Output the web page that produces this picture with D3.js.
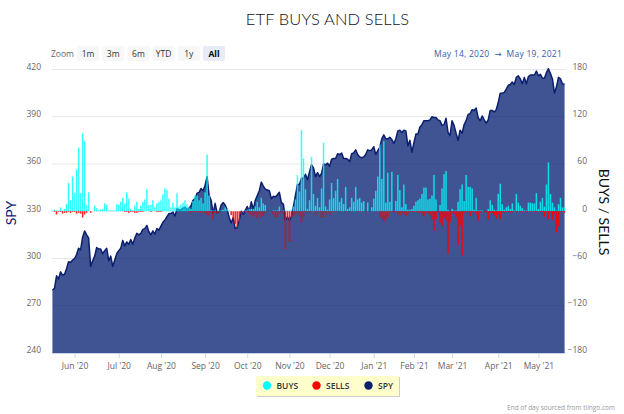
<!DOCTYPE html>
<html><head><meta charset="utf-8">
<script src="https://cdnjs.cloudflare.com/ajax/libs/d3/7.8.5/d3.min.js"></script>
<style>html,body{margin:0;padding:0;background:#fff}svg{display:block}text{font-family:"Open Sans","DejaVu Sans",sans-serif;white-space:pre}</style>
</head><body><svg id="c" width="624" height="414"></svg>
<script>
const spy=[280,281,289,287,291.5,289.5,290,293.5,298,297.5,299,
300,302.5,306.5,305.5,313.5,317.5,315,313,295,298.5,301.5,307,306,306,303,305,306.5,298.5,301.5,295,299,303,
305,306.5,311.5,308,310.5,309,312,309,313,316,315,316,318.5,319,321,317,315,317.5,315.5,319,318,320.5,
323,324.5,326.5,328.5,328.5,329.5,327,331.5,331,331,332,332.5,331,332,333.5,337,338,341.5,342,344.5,343,
346.5,352,340,337,328.5,335,329,329.5,334,335.5,334,331,326,322.5,326,319,319.5,324.5,330,328,330.5,
333,330,336,331,337,340,343,348.5,346,344,343.5,343,338,339.5,339,340.5,342,335.5,334.5,324,326.5,324,
327,333,340,347,347,351,351,353.5,350,355,359.5,357.5,352,354.5,352,354,360,359.5,360.5,358.5,
363,363.5,363.5,366.5,366,367,363.5,363.5,363,361.5,366.5,367,369,366,364.5,364,364.5,366,369,368.5,369,371,
366,368.5,370.5,376,378.5,376,376,377,375.5,373,376,381,381.5,380,381.5,381,371.5,375,367.5,
373.5,379,379,383.5,385,387.5,387.5,387.5,388,390,389.5,389.5,388,387.5,384.5,385,389,380,378,
387.5,384.5,379.5,375,381.5,379.5,385,387.5,391.5,392,394.5,394,395.5,389.5,387.5,390.5,388,386,388,394,394,393,394.5,
399,405,405,405.5,407.5,410,410.5,412,410.5,415,416,414,411,415,411,415.5,416.5,416.5,416.5,419,416,
417,414.5,414.5,418,420.5,417.5,414,405,409,415,414,411,410.5];
const buys=[1,2,1,0,5,1,3,9,36,14,44,23,53,81,23,99,89,8,24,0,
0,7,4,1,2,3,10,8,1,1,1,1,9,8,12,17,10,24,16,3,
1,7,12,3,7,12,15,28,8,8,14,5,10,12,14,21,29,27,16,5,
11,5,23,6,9,11,14,9,5,3,13,20,20,14,17,10,24,72,20,1,
1,1,0,1,1,2,5,3,1,0,0,0,0,0,0,0,1,1,3,3,
3,6,12,5,17,10,8,0,0,0,1,1,1,6,0,1,1,1,1,2,
6,15,46,25,103,67,28,3,14,69,22,7,17,5,29,87,6,2,15,36,
17,26,41,12,17,9,31,3,5,17,12,31,15,17,11,13,0,11,0,5,
16,26,44,85,41,89,11,49,12,50,0,13,46,27,5,34,9,2,2,3,
7,12,14,16,22,30,30,15,16,20,46,15,0,8,29,47,51,2,0,3,
1,1,12,28,34,13,46,31,31,29,2,17,1,1,1,0,0,3,14,8,
2,1,22,35,9,2,5,7,3,10,1,22,11,7,4,1,1,11,11,10,
10,23,3,12,17,6,34,62,22,11,5,1,9,17,5,5];
const sells=[0,1,4,1,1,3,2,2,1,2,1,1,3,2,3,8,4,2,0,2,
0,0,0,0,0,0,0,0,0,0,0,0,0,0,0,0,1,1,2,1,
1,2,2,1,1,1,0,0,0,1,0,0,1,1,1,0,0,0,0,0,
0,0,0,0,0,0,0,0,1,2,1,1,1,1,2,1,2,4,5,2,
10,2,3,2,0,0,0,0,0,5,10,16,20,14,4,1,1,2,3,4,
7,4,9,4,8,6,2,0,0,0,4,8,7,3,1,4,48,10,39,8,
6,4,2,5,14,7,1,1,1,1,0,4,1,1,8,8,1,2,5,1,
0,1,0,1,0,0,1,0,1,0,0,0,1,0,0,0,1,0,0,0,
0,0,0,8,10,13,10,7,1,1,1,1,4,5,2,4,6,3,1,1,
1,1,2,2,3,6,1,3,5,11,25,10,1,15,19,8,12,54,14,2,
4,8,43,18,56,2,1,1,6,1,1,4,12,2,0,1,1,10,2,2,
5,9,4,10,1,1,1,1,2,1,0,1,0,1,1,0,1,0,1,0,
1,1,0,1,1,7,1,10,2,11,3,27,19,1,1,2];
const monthLabels=["Jun '20","Jul '20","Aug '20","Sep '20","Oct '20","Nov '20","Dec '20","Jan '21","Feb '21","Mar '21","Apr '21","May '21"];
const monthIndex=[11,33,54,76,97,118,138,160,180,199,222,242];
const leftTicks=[240,270,300,330,360,390,420];
const rightTicks=[-180,-120,-60,0,60,120,180];
const zoomButtons=["1m","3m","6m","YTD","1y","All"];
const legendItems=["BUYS","SELLS","SPY"];

const svg=d3.select("#c");
const L=52,R=565,T=69.5,B=353;
const x=d3.scaleLinear().domain([0,spy.length-1]).range([L+.5,R-.5]);
const y=d3.scaleLinear().domain([240,420]).range([B,T]);
const y2=d3.scaleLinear().domain([-180,180]).range([B,T]);
const bw=1.5;

// title
svg.append("text").attr("x",327.5).attr("y",25).attr("text-anchor","middle").attr("fill","#111")
 .style("font-family","Lato").style("font-weight","300").style("letter-spacing","0.1px").style("font-size","16.5px").text("ETF BUYS AND SELLS");

// grid
svg.append("g").selectAll("line").data(leftTicks).join("line")
 .attr("x1",L).attr("x2",R+.5).attr("y1",d=>y(d)).attr("y2",d=>y(d)).attr("stroke","#e6e6e6").attr("stroke-width",1);

// area & line
svg.append("path").datum(spy).attr("fill","#001a6e").attr("fill-opacity",.75)
 .attr("d",d3.area().x((d,i)=>x(i)).y0(B).y1(d=>y(d)));
svg.append("g").selectAll("line").data([0,spy.length-1]).join("line")
 .attr("x1",d=>x(d)).attr("x2",d=>x(d)).attr("y1",d=>y(spy[d])).attr("y2",B).attr("stroke","#8d9bc6").attr("stroke-width",1);
svg.append("path").datum(spy).attr("fill","none").attr("stroke","#0a1f6e").attr("stroke-width",1.5).attr("stroke-linejoin","round")
 .attr("d",d3.line().x((d,i)=>x(i)).y(d=>y(d)));

// bars
svg.append("g").attr("opacity",.8).selectAll("rect").data(buys).join("rect")
 .attr("x",(d,i)=>x(i)-bw/2).attr("width",bw).attr("y",d=>y2(d)).attr("height",d=>y2(0)-y2(d)).attr("fill","#00ffff");
svg.append("g").attr("opacity",.88).selectAll("rect").data(sells).join("rect")
 .attr("x",(d,i)=>x(i)-bw/2).attr("width",bw).attr("y",y2(0)).attr("height",d=>y2(-d)-y2(0)).attr("fill","#ff0000");

// axes
const xAxis=d3.axisBottom(x).tickValues(monthIndex).tickFormat((d,i)=>monthLabels[i]).tickSize(5).tickPadding(5);
const gx=svg.append("g").attr("transform",`translate(0,${B})`).call(xAxis);
gx.select(".domain").attr("stroke","#ccd6eb").attr("d",`M${L},0.5H${R}`);
gx.selectAll("line").attr("stroke","#ccd6eb");
gx.selectAll("text").attr("fill","#666").style("font-size","8.5px").style("font-family","Open Sans");
const gl=svg.append("g").attr("transform","translate(41,0)").call(d3.axisLeft(y).tickValues(leftTicks).tickSize(0).tickPadding(0));
gl.select(".domain").remove();
gl.selectAll("text").attr("fill","#666").attr("dy","-0.02em").style("font-size","8.5px");
const gr=svg.append("g").attr("transform","translate(587,0)").call(d3.axisLeft(y2).tickValues(rightTicks).tickSize(0).tickPadding(0).tickFormat(d=>d<0?"−"+(-d):d));
gr.select(".domain").remove();
gr.selectAll("text").attr("fill","#666").attr("dy","-0.02em").style("font-size","8.5px");

// axis titles
svg.append("text").attr("transform","translate(16,213) rotate(-90)").attr("text-anchor","middle").attr("fill","#0a1f6e").style("font-size","14px").style("font-family","Lato").text("SPY");
svg.append("text").attr("transform","translate(599,212) rotate(90)").attr("text-anchor","middle").attr("fill","#111").style("font-size","14px").style("font-family","Lato").text("BUYS / SELLS");

// range selector
svg.append("text").attr("x",51).attr("y",57).attr("fill","#666").style("font-size","8.5px").text("Zoom");
const btnX=d3.scalePoint().domain(zoomButtons).range([77,203]);
const btn=svg.append("g").selectAll("g").data(zoomButtons).join("g").attr("transform",d=>`translate(${btnX(d)},46)`);
btn.append("rect").attr("width",22).attr("height",15).attr("rx",2).attr("fill",d=>d==="All"?"#e6ebf5":"#f7f7f7");
btn.append("text").attr("x",11).attr("y",10.5).attr("text-anchor","middle").attr("fill",d=>d==="All"?"#000":"#333")
 .style("font-size","8.5px").style("font-weight",d=>d==="All"?"700":"400").text(d=>d);
svg.append("text").attr("x",562).attr("y",56.5).attr("text-anchor","end").attr("fill","#335cad").style("font-size","8.5px").style("letter-spacing","0.25px").text("May 14, 2020  →  May 19, 2021");

// legend
svg.append("rect").attr("x",257).attr("y",377).attr("width",143).attr("height",20).attr("fill","#ccc");
svg.append("rect").attr("x",256).attr("y",376).attr("width",143).attr("height",20).attr("fill","#ffffcc");
const legX=d3.scaleOrdinal().domain(legendItems).range([267,316.5,368.5]);
const legC=d3.scaleOrdinal().domain(legendItems).range(["#00ffff","#ff0000","#0a1f6e"]);
const lg=svg.append("g").selectAll("g").data(legendItems).join("g").attr("transform",d=>`translate(${legX(d)},385.5)`);
lg.append("circle").attr("r",4.2).attr("fill",d=>legC(d));
lg.append("text").attr("x",9.5).attr("y",3.2).attr("fill","#333").style("font-size","8.5px").style("font-weight","600").text(d=>d);

// credit
svg.append("text").attr("x",615).attr("y",410).attr("text-anchor","end").attr("fill","#999").style("font-size","6.5px").text("End of day sourced from tiingo.com");
</script></body></html>
